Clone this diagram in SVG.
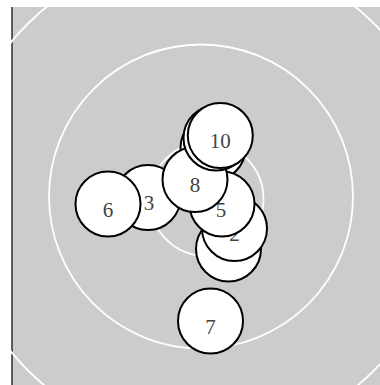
<svg xmlns="http://www.w3.org/2000/svg" width="380" height="385" viewBox="0 0 380 385">
<style>
.ring{fill:none;stroke:#fff;stroke-width:1.8}
.node circle{fill:#fff;stroke:#000;stroke-width:2}
.node text{font-family:"Liberation Serif","Times New Roman",serif;font-size:21px;fill:#444;text-anchor:middle}
</style>
<rect x="0" y="0" width="380" height="385" fill="#fff"/>
<rect x="12" y="7" width="368" height="378" fill="#ccc"/>
<line x1="12" y1="7" x2="12" y2="385" stroke="#000" stroke-width="1.2"/>
<g id="rings">
<circle class="ring" cx="201" cy="197" r="245"/>
<circle class="ring" cx="201" cy="196.5" r="152"/>
<circle class="ring" cx="206.5" cy="199" r="57"/>
</g>
<g id="connectors"></g>
<g id="node1" class="node"><circle cx="228.5" cy="249" r="32.5"/></g>
<g id="node2" class="node"><circle cx="234.5" cy="228.5" r="32.5"/><text x="234.5" y="241">2</text></g>
<g id="node3" class="node"><circle cx="148" cy="197.5" r="32.5"/><text x="149" y="210">3</text></g>
<g id="node4" class="node"><circle cx="213" cy="148" r="32.5"/></g>
<g id="node5" class="node"><circle cx="222" cy="204" r="32.5"/><text x="221" y="216.5">5</text></g>
<g id="node6" class="node"><circle cx="108" cy="204" r="32.5"/><text x="108" y="216.5">6</text></g>
<g id="node7" class="node"><circle cx="210.5" cy="321" r="32.5"/><text x="210.5" y="333.5">7</text></g>
<g id="node8" class="node"><circle cx="195" cy="179.5" r="32.5"/><text x="195" y="191.5">8</text></g>
<g id="node9" class="node"><circle cx="216" cy="138" r="32.5"/></g>
<g id="node10" class="node"><circle cx="220.3" cy="135.5" r="32.5"/><text x="220.3" y="148">10</text></g>
</svg>
